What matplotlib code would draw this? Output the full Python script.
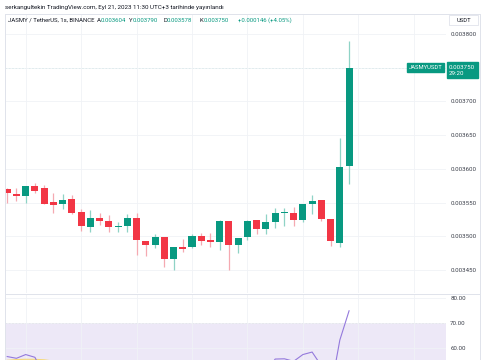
import numpy as np
import matplotlib
matplotlib.use("Agg")
import matplotlib.pyplot as plt
from matplotlib.patches import Rectangle
from matplotlib.lines import Line2D
from matplotlib.ticker import FormatStrFormatter, FuncFormatter

plt.rcParams['font.family'] = ['Roboto', 'DejaVu Sans']

# hourly candles JASMY/USDT
opens = [0.0035696, 0.0035622, 0.0035601, 0.0035745, 0.0035715, 0.0035503, 0.0035473, 0.0035552,
         0.0035359, 0.0035132, 0.0035274, 0.0035221, 0.0035141, 0.0035156, 0.0035274, 0.0034929,
         0.0034865, 0.0034984, 0.0034666, 0.0034835, 0.0034835, 0.0035007, 0.0034944, 0.0034914,
         0.0035225, 0.0034874, 0.0034984, 0.0035236, 0.0035102, 0.0035206, 0.0035349, 0.0035349,
         0.0035236, 0.0035482, 0.0035537, 0.0035260, 0.0034904, 0.0036040]
highs = [0.0035711, 0.0035711, 0.0035745, 0.0035794, 0.0035760, 0.0035645, 0.0035626, 0.0035611,
         0.0035399, 0.0035389, 0.0035349, 0.0035315, 0.0035215, 0.0035329, 0.0035349, 0.0034929,
         0.0035033, 0.0034984, 0.0034835, 0.0034963, 0.0035033, 0.0035043, 0.0035043, 0.0035240,
         0.0035225, 0.0034978, 0.0035240, 0.0035236, 0.0035325, 0.0035414, 0.0035414, 0.0035429,
         0.0035482, 0.0035611, 0.0035537, 0.0035260, 0.0036453, 0.0037900]
lows = [0.0035497, 0.0035527, 0.0035497, 0.0035636, 0.0035482, 0.0035349, 0.0035408, 0.0035329,
        0.0035082, 0.0035067, 0.0035162, 0.0035067, 0.0035067, 0.0035067, 0.0034721, 0.0034706,
        0.0034820, 0.0034547, 0.0034498, 0.0034761, 0.0034825, 0.0034874, 0.0034835, 0.0034795,
        0.0034498, 0.0034755, 0.0034944, 0.0035033, 0.0035033, 0.0035126, 0.0035151, 0.0035156,
        0.0035206, 0.0035325, 0.0035230, 0.0034859, 0.0034844, 0.0035780]
closes = [0.0035636, 0.0035601, 0.0035745, 0.0035675, 0.0035482, 0.0035467, 0.0035533, 0.0035340,
          0.0035151, 0.0035266, 0.0035225, 0.0035132, 0.0035151, 0.0035274, 0.0034939, 0.0034865,
          0.0034993, 0.0034666, 0.0034835, 0.0034815, 0.0035007, 0.0034929, 0.0034914, 0.0035225,
          0.0034874, 0.0034978, 0.0035225, 0.0035102, 0.0035206, 0.0035349, 0.0035359, 0.0035236,
          0.0035482, 0.0035527, 0.0035260, 0.0034929, 0.0036031, 0.0037500]

rsi = [56.7, 56.0, 57.5, 56.4, 49, 47, 50, 45, 40, 44, 43, 40, 41, 44, 36, 35, 39, 33, 38, 38,
       42, 40, 40, 48, 40, 42, 49, 47, 50, 55.7, 55.8, 54.8, 57.5, 58.5, 53, 43, 63.3, 75.0]
rsi_ma = [55.2, 55.5, 55.6, 55.6, 55.4, 54.9, 54.3, 53.5, 52.5, 51.6, 50.6, 49.5, 48.4, 47.5,
          46.2, 45.0, 44.0, 42.8, 41.9, 41.2, 40.8, 40.3, 39.9, 40.1, 39.8, 39.9, 40.5, 41.0,
          41.7, 42.7, 43.7, 44.8, 46.0, 47.5, 48.6, 49.2, 50.8, 53.1]

price_ticks = [0.00345, 0.0035, 0.00355, 0.0036, 0.00365, 0.0037, 0.00375, 0.0038]
rsi_ticks = [60, 70, 80]
grid_idx = [2, 8, 14, 20, 26, 32, 38, 44]

green = '#089981'
red = '#f23645'
green_wick = '#8fd3c6'
red_wick = '#f5a9b1'
grid_c = '#f0f2f6'
frame_c = '#e0e3eb'
txt_c = '#3b3f4a'

W, H = 485, 360
fig = plt.figure(figsize=(W / 100, H / 100), dpi=100)
ax = fig.add_axes([5 / W, 1 - 293 / H, 441 / W, 279 / H])
rax = fig.add_axes([5 / W, 0, 441 / W, 66 / H])

x = np.arange(len(opens))
o = np.array(opens); c = np.array(closes)
up = c >= o
bottoms = np.minimum(o, c)
heights = np.maximum(np.abs(c - o), 0.0000012)
wick_cols = [green_wick if u else red_wick for u in up]
body_cols = [green if u else red for u in up]

ax.vlines(x, lows, highs, colors=wick_cols, lw=0.9, zorder=2)
ax.bar(x, heights, bottom=bottoms, width=0.76, color=body_cols, linewidth=0, zorder=3)

last = closes[-1]

def price_fmt(v, pos):
    # the last-price box covers this label
    if abs(v - last) < 1e-9:
        return ''
    return '%.6f' % v

ax.set_xlim(-0.238, 47.49)
ax.set_ylim(0.0034159, 0.0038297)
ax.set_yticks(price_ticks)
ax.yaxis.set_major_formatter(FuncFormatter(price_fmt))
ax.yaxis.tick_right()
ax.set_xticks(grid_idx)
ax.tick_params(axis='x', length=0, labelbottom=False)
ax.tick_params(axis='y', length=0, pad=3, labelsize=4.4, labelcolor=txt_c)
ax.grid(True, color=grid_c, lw=0.6, zorder=0)
for s in ax.spines.values():
    s.set_visible(False)

# last price line and labels
ax.axhline(last, color=green, lw=0.6, ls=(0, (2, 2)), alpha=0.6, zorder=1)
ax.text(0.9535, last, 'JASMYUSDT', transform=ax.get_yaxis_transform(), ha='center', va='center',
        fontsize=4.2, color='white', zorder=5,
        bbox=dict(boxstyle='square,pad=0.35', fc=green, ec=green))
ax.annotate('0.003750\n29:20', xy=(1.0, last), xycoords=ax.get_yaxis_transform(),
            xytext=(2.2, 2.3), textcoords='offset points', ha='left', va='top',
            fontsize=4.4, color='white', linespacing=1.25, annotation_clip=False, zorder=5,
            bbox=dict(boxstyle='square,pad=0.4', fc=green, ec=green))

# RSI pane
rax.axhspan(30, 70, color='#ede8f7', lw=0, zorder=0)
rax.axhline(70, color='#a3a3b0', lw=0.6, ls=(0, (2, 2)), zorder=1)
rax.plot(x, rsi_ma, color='#f5d97a', lw=0.8, zorder=2)
rax.plot(x, rsi, color='#9479dc', lw=0.8, zorder=3)
rax.set_xlim(-0.238, 47.49)
rax.set_ylim(55.32, 81.72)
rax.set_yticks(rsi_ticks)
rax.yaxis.set_major_formatter(FormatStrFormatter('%.2f'))
rax.yaxis.tick_right()
rax.set_xticks(grid_idx)
rax.tick_params(axis='x', length=0, labelbottom=False)
rax.tick_params(axis='y', length=0, pad=3, labelsize=4.4, labelcolor=txt_c)
rax.grid(True, color=grid_c, lw=0.6, zorder=0)
for s in rax.spines.values():
    s.set_visible(False)

# frame
def hline(y, x0, x1):
    fig.add_artist(Line2D([x0 / W, x1 / W], [1 - y / H, 1 - y / H], color=frame_c, lw=0.7))

def vline(xp, y0, y1):
    fig.add_artist(Line2D([xp / W, xp / W], [1 - y0 / H, 1 - y1 / H], color=frame_c, lw=0.7))

hline(14, 5, 480)
hline(293.5, 5, 480)
vline(5, 14, 360)
vline(480, 14, 360)

# header texts
fig.text(5 / W, 1 - 7 / H, 'serkangultekin TradingView.com, Eyl 21, 2023 11:30 UTC+3 tarihinde yayınlandı',
         fontsize=4.5, color='#131722', va='center', ha='left')
ty = 1 - 20 / H
fig.text(8 / W, ty, 'JASMY / TetherUS, 1s, BINANCE', fontsize=4.3, color='#131722', va='center')
parts = [(97, 'A', '0.003604'), (129, 'Y', '0.003790'), (163, 'D', '0.003578'), (200, 'K', '0.003750')]
for px, lab, val in parts:
    fig.text(px / W, ty, lab, fontsize=4.3, color='#131722', va='center')
    fig.text((px + 3.6) / W, ty, val, fontsize=4.3, color=green, va='center')
fig.text(238 / W, ty, '+0.000146 (+4.05%)', fontsize=4.3, color=green, va='center')

fig.add_artist(Rectangle((449 / W, 1 - 25 / H), 29 / W, 10 / H, transform=fig.transFigure,
                         fc='white', ec=frame_c, lw=0.6))
fig.text(463.5 / W, 1 - 20 / H, 'USDT', fontsize=4.2, color='#131722', va='center', ha='center')

fig.savefig('out.png', dpi=100)
